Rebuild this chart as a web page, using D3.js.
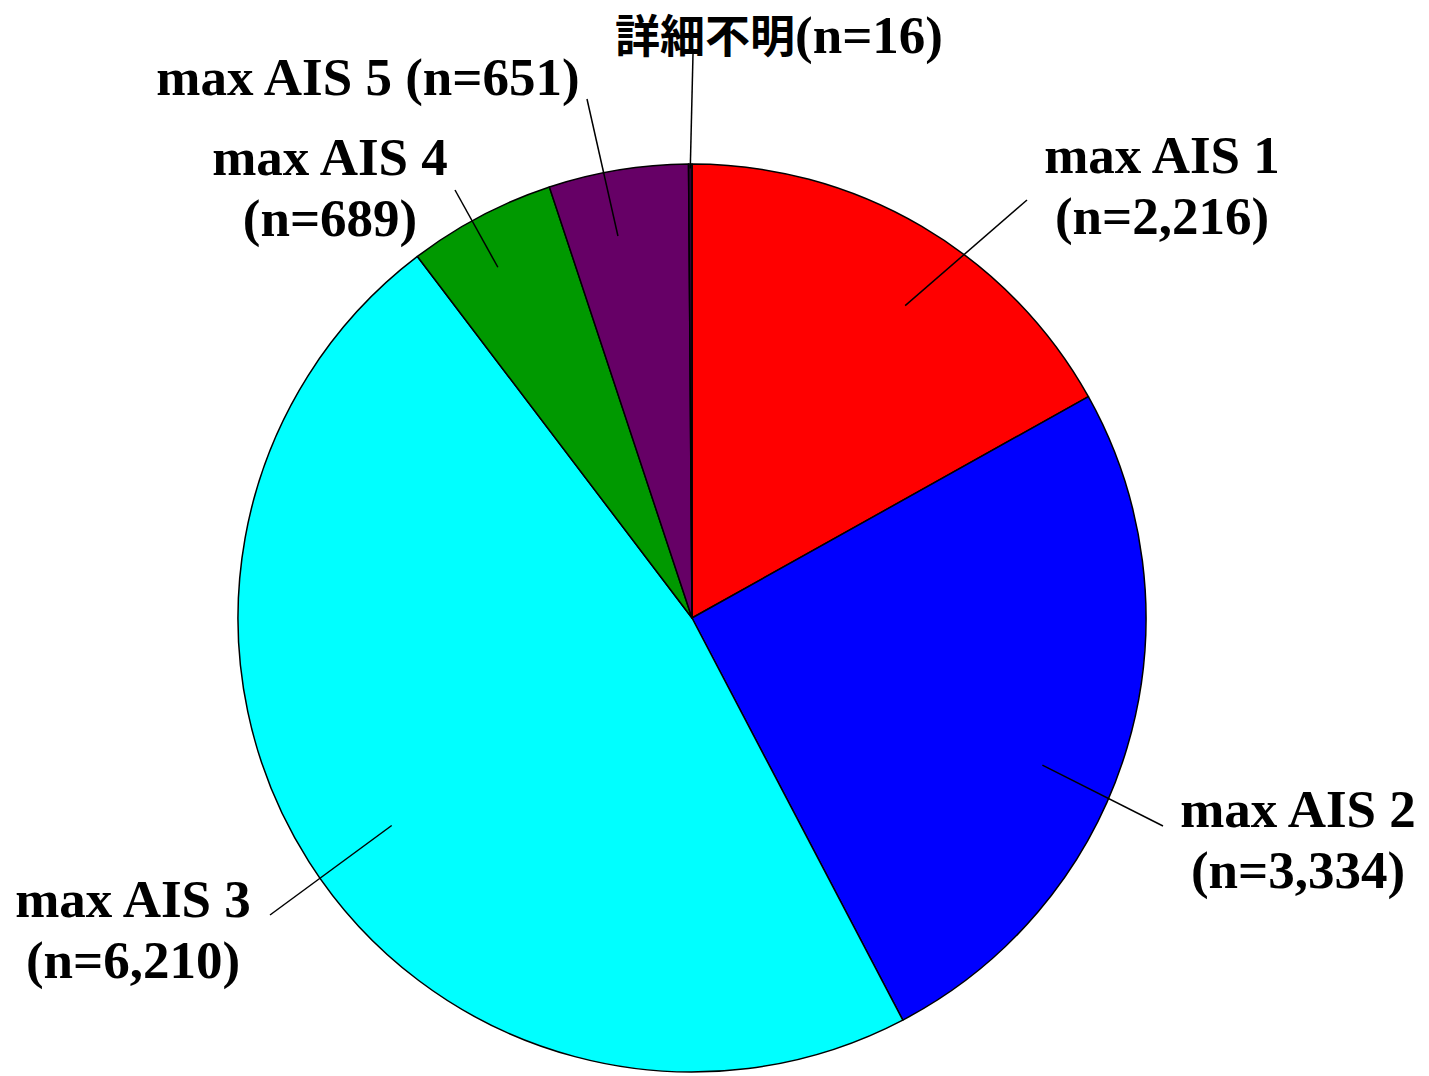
<!DOCTYPE html>
<html>
<head>
<meta charset="utf-8">
<script src="https://cdn.jsdelivr.net/npm/d3@7"></script>
<style>
  html, body { margin: 0; padding: 0; background: #fff; }
  svg { display: block; }
  text { font-family: "Liberation Serif", "Times New Roman", serif; font-weight: bold; fill: #000; }
  .cjk { font-family: "Noto Sans CJK JP", "Noto Sans CJK SC", sans-serif; font-weight: bold; }
</style>
</head>
<body>
<svg id="chart" width="1429" height="1076"></svg>
<script>
// ---- data ----
const categories = ["max AIS 1", "max AIS 2", "max AIS 3", "max AIS 4", "max AIS 5", "詳細不明"];
const counts = [2216, 3334, 6210, 689, 651, 16];
const countLabels = ["2,216", "3,334", "6,210", "689", "651", "16"];
const colors = ["#ff0000", "#0000ff", "#00ffff", "#009900", "#660066", "#330033"];

// ---- layout (label placement) ----
const cx = 692, cy = 618, R = 454;
const labelLayout = [
  { lines: ["max AIS 1", "(n=2,216)"], x: 1162, y: 173, end: [1027, 200], rIn: 0.833, dAng: 3.9 },
  { lines: ["max AIS 2", "(n=3,334)"], x: 1298, y: 827, end: [1163, 826], rIn: 0.837, dAng: 6.2 },
  { lines: ["max AIS 3", "(n=6,210)"], x: 133, y: 917, end: [270, 915], rIn: 0.804, dAng: -2.2 },
  { lines: ["max AIS 4", "(n=689)"], x: 330, y: 175, end: [455, 190], rIn: 0.883, dAng: -1.2 },
  { lines: ["max AIS 5 (n=651)"], x: 368, y: 95, end: [587, 99], rIn: 0.857, dAng: -1.6 },
  { lines: ["詳細不明(n=16)"], x: 779, y: 53, end: [693, 54], rIn: 0.99, dAng: 0 }
];

const svg = d3.select("#chart");
const g = svg.append("g").attr("transform", `translate(${cx},${cy})`);

const pie = d3.pie().sort(null).value(d => d.value);
const data = categories.map((c, i) => ({ name: c, value: counts[i], color: colors[i], n: countLabels[i] }));
const arcs = pie(data);
const arc = d3.arc().innerRadius(0).outerRadius(R);

g.selectAll("path.slice")
  .data(arcs)
  .join("path")
  .attr("class", "slice")
  .attr("d", arc)
  .attr("fill", d => d.data.color)
  .attr("stroke", "#000")
  .attr("stroke-width", 1.5)
  .attr("stroke-linejoin", "round");

// leader lines
arcs.forEach((a, i) => {
  const L = labelLayout[i];
  const mid = (a.startAngle + a.endAngle) / 2 + L.dAng * Math.PI / 180;
  const r = R * L.rIn;
  const x1 = cx + r * Math.sin(mid), y1 = cy - r * Math.cos(mid);
  svg.append("line")
    .attr("x1", x1).attr("y1", y1)
    .attr("x2", L.end[0]).attr("y2", L.end[1])
    .attr("stroke", "#000").attr("stroke-width", 1.5);
});

// labels
labelLayout.forEach((L, i) => {
  L.lines.forEach((t, j) => {
    const txt = svg.append("text")
      .attr("x", L.x)
      .attr("y", L.y + j * 61)
      .attr("text-anchor", "middle")
      .attr("font-size", 53);
    if (i === 5) {
      txt.append("tspan").attr("class", "cjk").attr("font-size", 45).text(categories[5]);
      txt.append("tspan").text("(n=" + countLabels[5] + ")");
    } else {
      txt.text(t);
    }
  });
});
</script>
</body>
</html>
